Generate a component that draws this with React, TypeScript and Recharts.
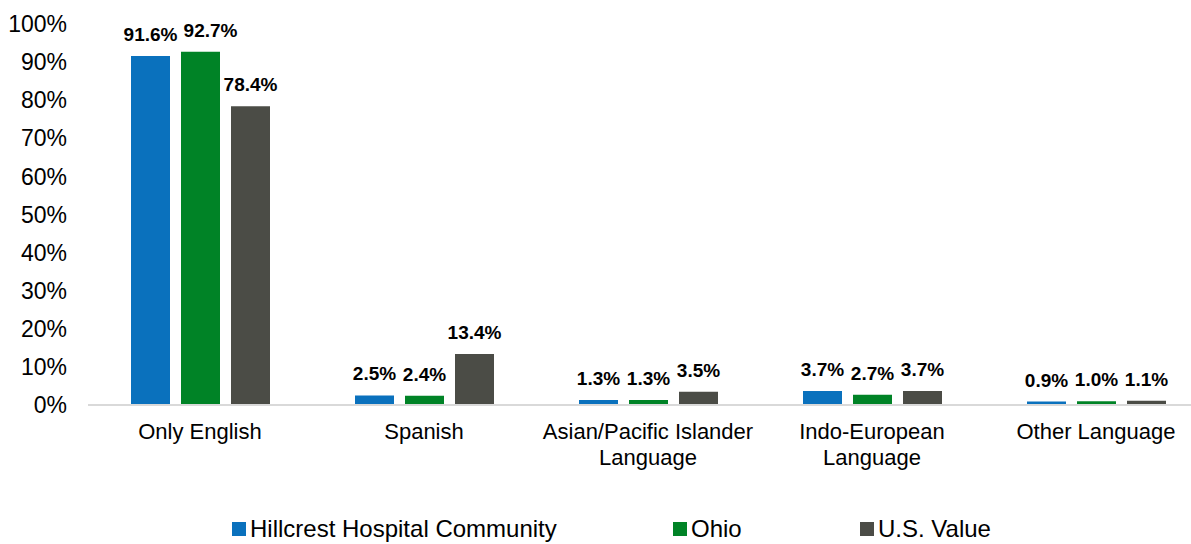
import { BarChart, Bar, XAxis, YAxis, Legend, LabelList } from 'recharts';

const categories = [
  'Only English',
  'Spanish',
  'Asian/Pacific Islander Language',
  'Indo-European Language',
  'Other Language',
];
const categoryLines: Record<string, string[]> = {
  'Asian/Pacific Islander Language': ['Asian/Pacific Islander', 'Language'],
  'Indo-European Language': ['Indo-European', 'Language'],
};
const hillcrest = [91.6, 2.5, 1.3, 3.7, 0.9];
const ohio = [92.7, 2.4, 1.3, 2.7, 1.0];
const usValue = [78.4, 13.4, 3.5, 3.7, 1.1];
const yTicks = [0, 10, 20, 30, 40, 50, 60, 70, 80, 90, 100];

const seriesNames = ['Hillcrest Hospital Community', 'Ohio', 'U.S. Value'];
const colors = ['#0A71BD', '#008326', '#4B4C46'];

const data = categories.map((c, i) => ({
  name: c,
  hillcrest: hillcrest[i],
  ohio: ohio[i],
  us: usValue[i],
}));

const FONT = '"Liberation Sans", Arial, sans-serif';

function CategoryTick(props: any) {
  const { x, y, payload } = props;
  const lines = categoryLines[payload.value] || [payload.value];
  return (
    <text x={x} y={y} textAnchor="middle" fill="#000" fontSize={22} fontFamily={FONT}>
      {lines.map((l, i) => (
        <tspan key={i} x={x} dy={26}>
          {l}
        </tspan>
      ))}
    </text>
  );
}

// legend items sit at fixed x positions like the original
const legendX = [232, 673, 860];

function CustomLegend(props: any) {
  const { payload } = props;
  return (
    <div style={{ position: 'relative', height: 30, width: 1191, fontFamily: FONT, fontSize: 24 }}>
      {payload.map((p: any, i: number) => (
        <div
          key={p.value}
          style={{
            position: 'absolute',
            left: legendX[i],
            top: 0,
            height: 30,
            display: 'flex',
            alignItems: 'center',
            color: '#000',
            whiteSpace: 'nowrap',
          }}
        >
          <span style={{ display: 'inline-block', width: 14, height: 14, background: p.color, marginRight: 4 }} />
          {p.value}
        </div>
      ))}
    </div>
  );
}

const fmt = (v: any) => `${Number(v).toFixed(1)}%`;

// value label; the first Ohio label was nudged right in the original to clear its neighbour
function ValueLabel(props: any) {
  const { x, y, width, value, index, shift } = props;
  const dx = shift && index === 0 ? 10 : 0;
  return (
    <text
      x={x + width / 2 + dx}
      y={y - 15}
      textAnchor="middle"
      fill="#000"
      fontSize={19}
      fontWeight="bold"
      fontFamily={FONT}
    >
      {fmt(value)}
    </text>
  );
}

export default function App() {
  return (
    <div style={{ position: 'absolute', left: 0, top: 0, width: 1191, height: 544, overflow: 'hidden', background: '#fff' }}>
      <BarChart
        width={1212}
        height={544}
        data={data}
        margin={{ top: 24, right: 4, left: 0, bottom: 0 }}
        barGap={11}
        barSize={39}
      >
        <XAxis
          dataKey="name"
          tick={<CategoryTick />}
          tickLine={false}
          axisLine={{ stroke: '#D9D9D9', strokeWidth: 2 }}
          height={109}
          interval={0}
        />
        <YAxis
          width={88}
          domain={[0, 100]}
          ticks={yTicks}
          tickFormatter={(v) => `${v}%`}
          axisLine={false}
          tickLine={false}
          tickMargin={15}
          tick={{ fill: '#000', fontSize: 23, fontFamily: FONT }}
        />
        <Legend
          verticalAlign="bottom"
          content={<CustomLegend />}
          wrapperStyle={{ left: 0, width: 1191 }}
        />
        <Bar dataKey="hillcrest" name={seriesNames[0]} fill={colors[0]} isAnimationActive={false}>
          <LabelList dataKey="hillcrest" content={<ValueLabel />} />
        </Bar>
        <Bar dataKey="ohio" name={seriesNames[1]} fill={colors[1]} isAnimationActive={false}>
          <LabelList dataKey="ohio" content={<ValueLabel shift />} />
        </Bar>
        <Bar dataKey="us" name={seriesNames[2]} fill={colors[2]} isAnimationActive={false}>
          <LabelList dataKey="us" content={<ValueLabel />} />
        </Bar>
      </BarChart>
    </div>
  );
}
